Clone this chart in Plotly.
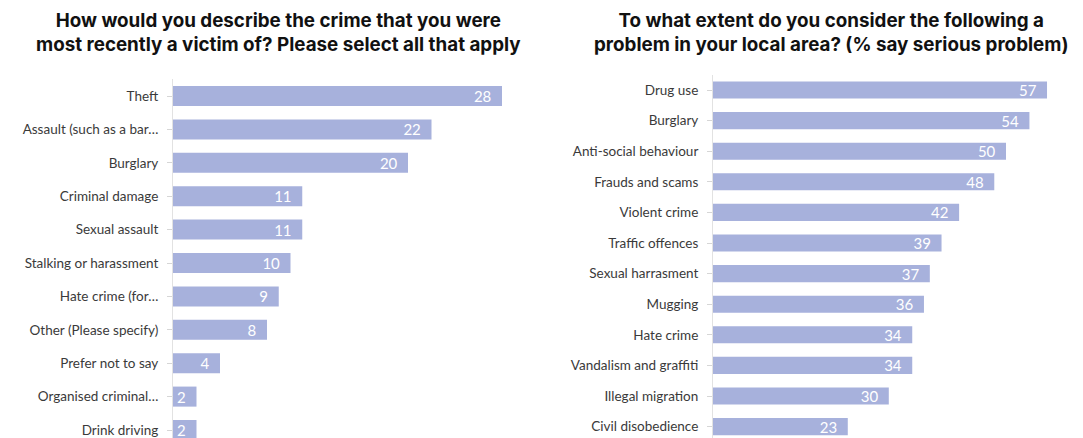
import plotly.graph_objects as go

# Left panel: type of crime most recently experienced
crime_types = [
    "Theft",
    "Assault (such as a bar\u2026",
    "Burglary",
    "Criminal damage",
    "Sexual assault",
    "Stalking or harassment",
    "Hate crime (for\u2026",
    "Other (Please specify)",
    "Prefer not to say",
    "Organised criminal\u2026",
    "Drink driving",
]
crime_pct = [28, 22, 20, 11, 11, 10, 9, 8, 4, 2, 2]

# Right panel: % saying each is a serious problem locally
local_problems = [
    "Drug use",
    "Burglary",
    "Anti-social behaviour",
    "Frauds and scams",
    "Violent crime",
    "Traffic offences",
    "Sexual harrasment",
    "Mugging",
    "Hate crime",
    "Vandalism and graffiti",
    "Illegal migration",
    "Civil disobedience",
]
problem_pct = [57, 54, 50, 48, 42, 39, 37, 36, 34, 34, 30, 23]

W, H = 1083, 438
BAR = "#a7b1dc"
LABEL_FONT = dict(family="Lato, Inter, sans-serif", size=13.5, color="#3a3a3a")
VALUE_FONT = dict(family="Lato, Inter, sans-serif", size=15, color="white")
TITLE_FONT = dict(family="Inter, Lato, sans-serif", size=18.8, color="#111111")

fig = go.Figure()

fig.add_trace(go.Bar(
    x=crime_pct, y=list(range(len(crime_types))), orientation="h",
    marker=dict(color=BAR, line=dict(width=0)), width=0.6,
    texttemplate="%{x}\u00a0\u00a0", textposition="inside", insidetextanchor="end",
    textangle=0, textfont=VALUE_FONT, constraintext="none", cliponaxis=False,
    xaxis="x", yaxis="y", showlegend=False, hoverinfo="skip",
))
fig.add_trace(go.Bar(
    x=problem_pct, y=list(range(len(local_problems))), orientation="h",
    marker=dict(color=BAR, line=dict(width=0)), width=0.56,
    texttemplate="%{x}\u00a0\u00a0", textposition="inside", insidetextanchor="end",
    textangle=0, textfont=VALUE_FONT, constraintext="none", cliponaxis=False,
    xaxis="x2", yaxis="y2", showlegend=False, hoverinfo="skip",
))

# pixel geometry of the two plot areas
L_x0, L_x1, L_scale = 173, 520, 11.75
L_top, L_step = 79.3, 33.4
R_x0, R_x1, R_scale = 713, 1078, 5.86
R_top, R_step = 74.7, 30.6

def yax(top, step, n_labels, labels):
    span = (H - top) / step
    return dict(
        domain=[0, 1 - top / H],
        range=[-0.5 + span, -0.5],
        tickmode="array", tickvals=list(range(n_labels)), ticktext=labels,
        tickson="boundaries", ticks="outside", ticklen=5, tickcolor="#d6d6d6",
        showline=True, linecolor="#e2e2e2", linewidth=1,
        showgrid=False, zeroline=False, tickfont=LABEL_FONT,
        ticklabelstandoff=6, fixedrange=True,
    )

fig.update_layout(
    width=W, height=H,
    margin=dict(l=0, r=0, t=0, b=0),
    paper_bgcolor="white", plot_bgcolor="white",
    bargap=0.4,
    uniformtext=dict(mode=False),
    xaxis=dict(domain=[L_x0 / W, L_x1 / W], range=[0, (L_x1 - L_x0) / L_scale],
               visible=False, fixedrange=True),
    xaxis2=dict(domain=[R_x0 / W, R_x1 / W], range=[0, (R_x1 - R_x0) / R_scale],
                visible=False, fixedrange=True),
    yaxis=dict(anchor="x", **yax(L_top, L_step, len(crime_types), crime_types)),
    yaxis2=dict(anchor="x2", **yax(R_top, R_step, len(local_problems), local_problems)),
    annotations=[
        dict(text="<b>How would you describe the crime that you were<br>"
                  "most recently a victim of? Please select all that apply</b>",
             x=278 / W, y=1 - 33 / H, xref="paper", yref="paper",
             xanchor="center", yanchor="middle", showarrow=False,
             font=TITLE_FONT, align="center"),
        dict(text="<b>To what extent do you consider the following a<br>"
                  "problem in your local area? (% say serious problem)</b>",
             x=831 / W, y=1 - 33 / H, xref="paper", yref="paper",
             xanchor="center", yanchor="middle", showarrow=False,
             font=TITLE_FONT, align="center"),
    ],
)

fig.write_html("out.html")
